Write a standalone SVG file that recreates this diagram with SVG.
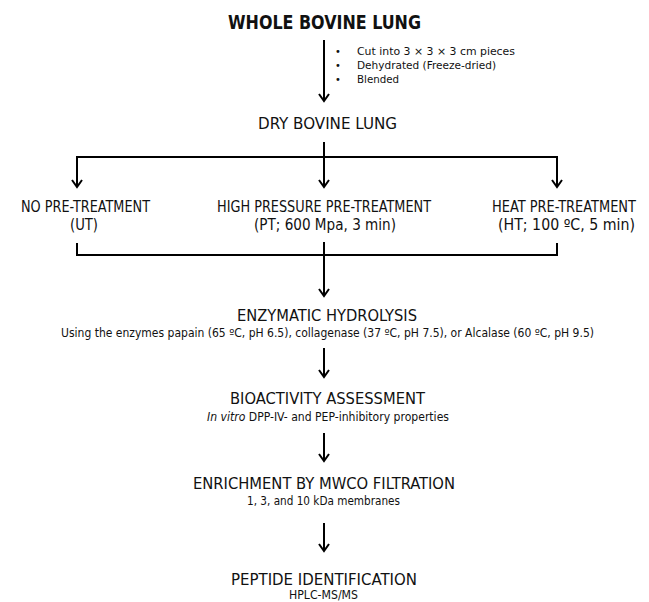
<svg xmlns="http://www.w3.org/2000/svg" width="649" height="602" viewBox="0 0 649 602">
<style>
text{font-family:"DejaVu Sans","Liberation Sans",sans-serif;font-stretch:condensed;fill:#111;}
.title{font-size:20px;font-weight:bold;}
.h{font-size:15px;}
.s{font-size:11.5px;}
.b{font-size:11px;}
.ln{stroke:#000;stroke-width:2;fill:none;}
</style>
<defs>
<marker id="ah" viewBox="-1 -6 10 12" refX="7" refY="0" markerWidth="10" markerHeight="12" markerUnits="userSpaceOnUse" orient="auto">
<path d="M0,-5 L7,0 L0,5" fill="none" stroke="#000" stroke-width="2"/>
</marker>
</defs>
<rect width="649" height="602" fill="#fff"/>
<g id="connectors">
<line class="ln" x1="324" y1="40" x2="324" y2="101" marker-end="url(#ah)"/>
<line class="ln" x1="324" y1="142" x2="324" y2="157"/>
<polyline class="ln" points="77,187 77,157 557,157 557,187"/>
<line class="ln" x1="77" y1="183" x2="77" y2="187" marker-end="url(#ah)"/>
<line class="ln" x1="557" y1="183" x2="557" y2="187" marker-end="url(#ah)"/>
<line class="ln" x1="324" y1="157" x2="324" y2="187" marker-end="url(#ah)"/>
<polyline class="ln" points="77,243 77,255 557,255 557,243"/>
<line class="ln" x1="324" y1="242" x2="324" y2="296" marker-end="url(#ah)"/>
<line class="ln" x1="324" y1="348" x2="324" y2="377" marker-end="url(#ah)"/>
<line class="ln" x1="324" y1="433" x2="324" y2="461" marker-end="url(#ah)"/>
<line class="ln" x1="324" y1="523" x2="324" y2="551" marker-end="url(#ah)"/>
</g>
<g id="whole-lung">
<text class="title" x="228" y="29" textLength="193" lengthAdjust="spacingAndGlyphs">WHOLE BOVINE LUNG</text>
</g>
<g id="prep-steps">
<text class="b" x="335" y="55">•</text>
<text class="b" x="335" y="69">•</text>
<text class="b" x="335" y="83">•</text>
<text class="b" x="357" y="55" textLength="158" lengthAdjust="spacingAndGlyphs">Cut into 3 × 3 × 3 cm pieces</text>
<text class="b" x="357" y="69" textLength="139" lengthAdjust="spacingAndGlyphs">Dehydrated (Freeze-dried)</text>
<text class="b" x="357" y="83" textLength="42" lengthAdjust="spacingAndGlyphs">Blended</text>
</g>
<g id="dry-lung">
<text class="h" x="258" y="129" textLength="139" lengthAdjust="spacingAndGlyphs">DRY BOVINE LUNG</text>
</g>
<g id="no-pretreatment">
<text class="h" x="21" y="212" textLength="129" lengthAdjust="spacingAndGlyphs">NO PRE-TREATMENT</text>
<text class="h" x="70" y="230" textLength="28" lengthAdjust="spacingAndGlyphs">(UT)</text>
</g>
<g id="high-pressure">
<text class="h" x="217" y="212" textLength="214" lengthAdjust="spacingAndGlyphs">HIGH PRESSURE PRE-TREATMENT</text>
<text class="h" x="254" y="230" textLength="142" lengthAdjust="spacingAndGlyphs">(PT; 600 Mpa, 3 min)</text>
</g>
<g id="heat">
<text class="h" x="492" y="212" textLength="144" lengthAdjust="spacingAndGlyphs">HEAT PRE-TREATMENT</text>
<text class="h" x="498" y="230" textLength="137" lengthAdjust="spacingAndGlyphs">(HT; 100 ºC, 5 min)</text>
</g>
<g id="hydrolysis">
<text class="h" x="237" y="321" textLength="180" lengthAdjust="spacingAndGlyphs">ENZYMATIC HYDROLYSIS</text>
<text class="s" x="61" y="337" textLength="533" lengthAdjust="spacingAndGlyphs">Using the enzymes papain (65 ºC, pH 6.5), collagenase (37 ºC, pH 7.5), or Alcalase (60 ºC, pH 9.5)</text>
</g>
<g id="bioactivity">
<text class="h" x="230" y="404" textLength="195" lengthAdjust="spacingAndGlyphs">BIOACTIVITY ASSESSMENT</text>
<text class="s" x="207" y="421" textLength="242" lengthAdjust="spacingAndGlyphs"><tspan font-style="italic">In vitro</tspan> DPP-IV- and PEP-inhibitory properties</text>
</g>
<g id="enrichment">
<text class="h" x="193" y="489" textLength="262" lengthAdjust="spacingAndGlyphs">ENRICHMENT BY MWCO FILTRATION</text>
<text class="s" x="247" y="505" textLength="153" lengthAdjust="spacingAndGlyphs">1, 3, and 10 kDa membranes</text>
</g>
<g id="peptide-id">
<text class="h" x="231" y="585" textLength="186" lengthAdjust="spacingAndGlyphs">PEPTIDE IDENTIFICATION</text>
<text class="s" x="289" y="599" textLength="69" lengthAdjust="spacingAndGlyphs">HPLC-MS/MS</text>
</g>
</svg>
